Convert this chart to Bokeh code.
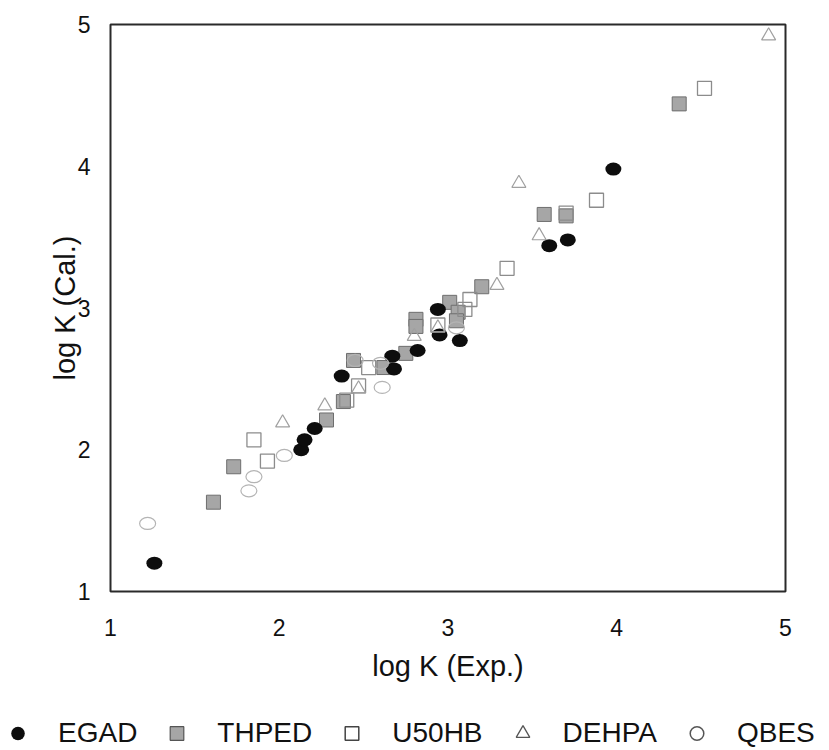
from bokeh.plotting import figure
from bokeh.models import Range1d, FixedTicker, Legend, LegendItem
from bokeh.embed import file_html
from bokeh.resources import INLINE

# ---- data (log K experimental vs calculated) ----
egad_x = [1.26, 2.13, 2.15, 2.21, 2.37, 2.67, 2.68, 2.82, 2.95, 2.94, 3.07, 3.60, 3.71, 3.98]
egad_y = [1.20, 2.00, 2.07, 2.15, 2.52, 2.66, 2.57, 2.70, 2.81, 2.99, 2.77, 3.44, 3.48, 3.98]

thped_x = [1.61, 1.73, 2.28, 2.38, 2.44, 2.62, 2.75, 2.81, 2.81, 3.01, 3.06, 3.05, 3.20, 3.57, 3.70, 4.37]
thped_y = [1.63, 1.88, 2.21, 2.34, 2.63, 2.58, 2.68, 2.92, 2.87, 3.04, 2.97, 2.91, 3.15, 3.66, 3.65, 4.44]

u50hb_x = [1.85, 1.93, 2.40, 2.47, 2.53, 2.94, 3.10, 3.13, 3.35, 3.70, 3.88, 4.52]
u50hb_y = [2.07, 1.92, 2.35, 2.45, 2.58, 2.88, 2.99, 3.06, 3.28, 3.67, 3.76, 4.55]

dehpa_x = [2.02, 2.27, 2.47, 2.80, 2.94, 3.29, 3.42, 3.54, 4.90]
dehpa_y = [2.19, 2.31, 2.43, 2.80, 2.86, 3.16, 3.88, 3.51, 4.92]

qbes_x = [1.22, 1.82, 1.85, 2.03, 2.45, 2.60, 2.61, 3.05]
qbes_y = [1.48, 1.71, 1.81, 1.96, 2.63, 2.61, 2.44, 2.86]

ticks = [1, 2, 3, 4, 5]
series_names = ["EGAD", "THPED", "U50HB", "DEHPA", "QBES"]
x_title = "log K (Exp.)"
y_title = "log K (Cal.)"

FONT = "Liberation Sans"

# ================= main scatter chart =================
p = figure(width=829, height=700, output_backend="svg", toolbar_location=None,
           x_range=Range1d(1, 5), y_range=Range1d(1, 5),
           min_border_left=110, min_border_right=44, min_border_top=24, min_border_bottom=109)
p.grid.visible = False
p.outline_line_color = "#2a2a2a"
p.outline_line_width = 2
p.background_fill_color = "white"
p.border_fill_color = "white"

for ax in (p.xaxis[0], p.yaxis[0]):
    ax.ticker = FixedTicker(ticks=ticks)
    ax.axis_line_color = None
    ax.major_tick_line_color = None
    ax.minor_tick_line_color = None
    ax.major_tick_out = 0
    ax.major_tick_in = 0
    ax.major_label_text_font = FONT
    ax.major_label_text_font_size = "23px"
    ax.major_label_text_color = "#111111"
    ax.axis_label_text_font = FONT
    ax.axis_label_text_font_size = "29px"
    ax.axis_label_text_font_style = "normal"
    ax.axis_label_text_color = "#111111"

p.xaxis.axis_label = x_title
p.yaxis.axis_label = y_title
p.xaxis.major_label_standoff = 27
p.xaxis.axis_label_standoff = 11
p.yaxis.major_label_standoff = 20
p.yaxis.axis_label_standoff = -6

p.scatter(thped_x, thped_y, marker="square", size=14,
          fill_color="#a6a6a6", line_color="#6e6e6e", line_width=1)
p.ellipse(egad_x, egad_y, width=16, height=13, width_units="screen",
          height_units="screen", fill_color="#0d0d0d", line_color=None)
p.scatter(u50hb_x, u50hb_y, marker="square", size=14,
          fill_color=None, line_color="#8c8c8c", line_width=1.3)
p.scatter(dehpa_x, dehpa_y, marker="triangle", size=14,
          fill_color=None, line_color="#a0a0a0", line_width=1.2)
p.ellipse(qbes_x, qbes_y, width=16, height=12, width_units="screen",
          height_units="screen", fill_color=None, line_color="#b4b4b4", line_width=1.2)

# ================= key strip below the chart =================
k = figure(width=829, height=50, output_backend="svg", toolbar_location=None,
           x_range=Range1d(-2, -1), y_range=Range1d(-2, -1),
           min_border_left=0, min_border_right=0, min_border_top=0, min_border_bottom=0)
k.axis.visible = False
k.grid.visible = False
k.outline_line_color = None
k.background_fill_color = "white"
k.border_fill_color = "white"

# series drawn in the key figure (their values lie outside its view range; only key swatches show)
k_egad = k.scatter(egad_x, egad_y, marker="circle", size=14, fill_color="#0d0d0d", line_color=None)
k_thped = k.scatter(thped_x, thped_y, marker="square", size=14, fill_color="#a6a6a6",
                    line_color="#555555", line_width=1.2)
k_u50 = k.scatter(u50hb_x, u50hb_y, marker="square", size=14, fill_color=None,
                  line_color="#444444", line_width=1.5)
k_dehpa = k.scatter(dehpa_x, dehpa_y, marker="triangle", size=14, fill_color=None,
                    line_color="#555555", line_width=1.3)
k_qbes = k.scatter(qbes_x, qbes_y, marker="circle", size=14, fill_color=None,
                   line_color="#555555", line_width=1.5)

legend = Legend(
    items=[LegendItem(label=series_names[0], renderers=[k_egad]),
           LegendItem(label=series_names[1], renderers=[k_thped]),
           LegendItem(label=series_names[2], renderers=[k_u50]),
           LegendItem(label=series_names[3], renderers=[k_dehpa]),
           LegendItem(label=series_names[4], renderers=[k_qbes])],
    location=(0, 0), orientation="horizontal",
    glyph_width=35, glyph_height=34, label_height=34,
    label_standoff=23, spacing=22, padding=0, margin=0,
    border_line_color=None, background_fill_alpha=0,
    label_text_font=FONT, label_text_font_size="28px",
    label_text_color="#111111")
k.add_layout(legend)

open("out.html", "w").write(file_html([p, k], INLINE))
